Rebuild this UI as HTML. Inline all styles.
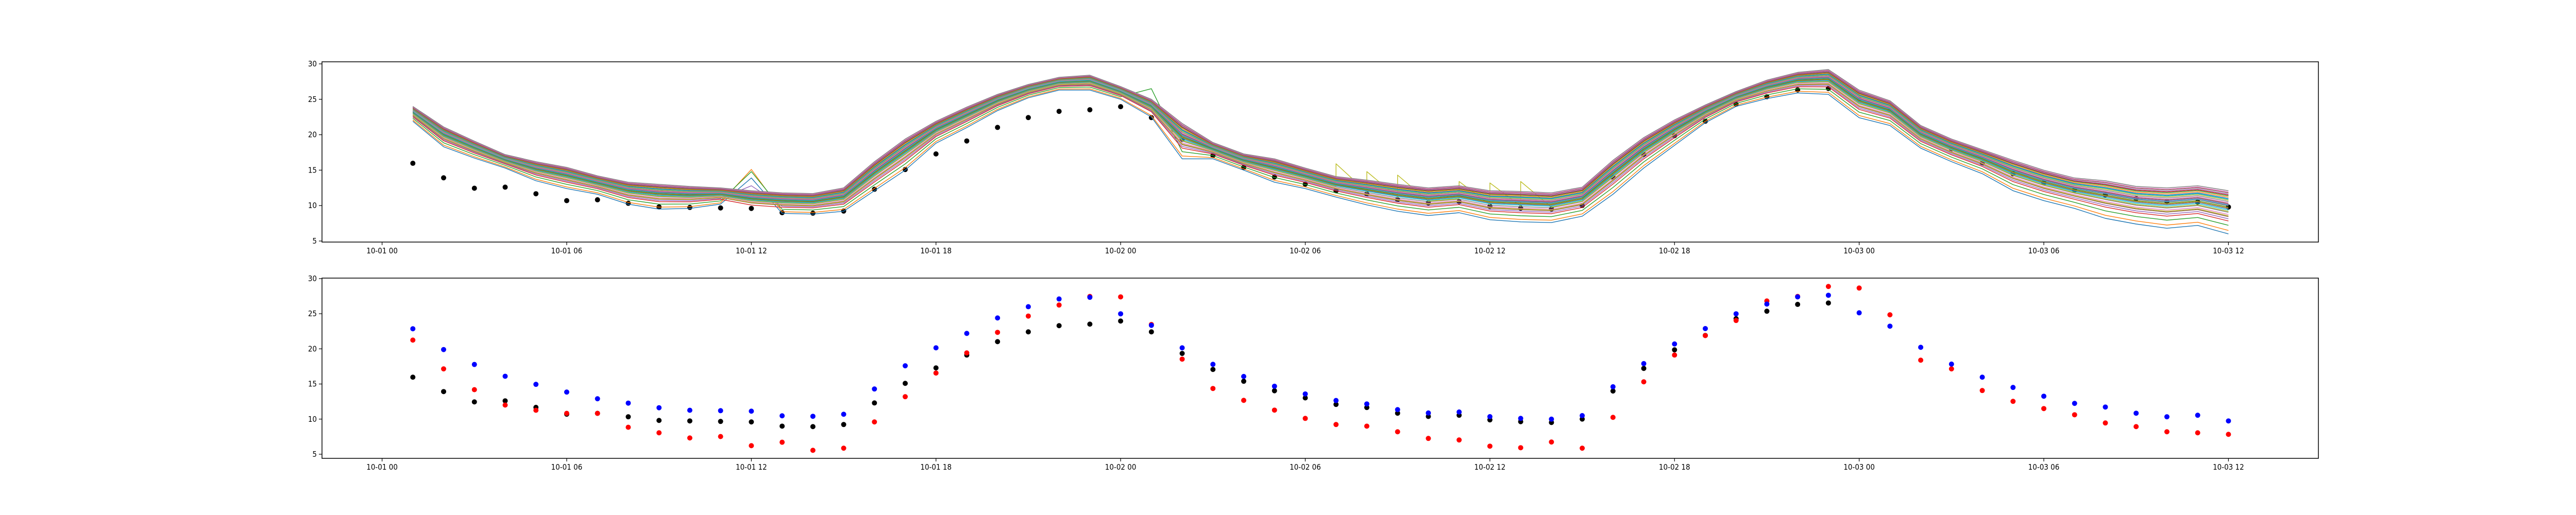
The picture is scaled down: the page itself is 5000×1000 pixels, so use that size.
<!DOCTYPE html>
<html><head><meta charset="utf-8">
<style>
html,body{margin:0;padding:0;background:#fff;}
svg{display:block;font-family:"DejaVu Sans Condensed","Liberation Sans Narrow","Liberation Sans",sans-serif;}
</style></head>
<body>
<svg id="fig" width="5000" height="1000" viewBox="0 0 5000 1000" xmlns="http://www.w3.org/2000/svg">
<rect x="0" y="0" width="5000" height="1000" fill="#fff"/>
<g id="ax1"></g>
<g id="ax2"></g>
</svg>
<script>
const obs = [15.97,13.92,12.45,12.6,11.67,10.7,10.82,10.33,9.81,9.74,9.67,9.6,9.0,8.93,
9.23,12.3,15.09,17.29,19.12,21.03,22.42,23.3,23.52,23.96,22.42,19.35,17.07,15.39,14.04,13.02,12.09,11.65,10.84,10.38,10.55,9.89,9.64,9.52,
10.01,14.0,17.22,19.86,21.91,24.3,25.36,26.33,26.53,25.0,23.5,20.5,18.0,16.0,14.5,13.2,12.2,11.5,11.0,10.6,10.5,9.8];
const obsShownBottom = 47;
const blueVals = [22.86,19.9,17.78,16.1,14.95,13.85,12.9,12.28,11.62,11.26,11.2,11.13,10.47,10.4,
10.69,14.29,17.59,20.15,22.2,24.4,26.0,27.1,27.34,24.99,23.35,20.15,17.8,16.07,14.68,13.58,12.65,12.16,11.35,10.87,11.01,10.35,10.1,9.99,
10.5,14.6,17.9,20.7,22.89,24.99,26.38,27.4,27.63,25.13,23.23,20.22,17.83,15.97,14.51,13.26,12.24,11.72,10.84,10.33,10.55,9.74];
const redVals = [21.25,17.15,14.19,12.0,11.26,10.82,10.82,8.84,8.05,7.32,7.52,6.22,6.71,5.56,
5.86,9.6,13.19,16.56,19.42,22.35,24.67,26.24,27.46,27.4,23.47,18.54,14.36,12.67,11.28,10.1,9.23,9.0,8.2,7.25,7.03,6.15,5.93,6.74,
5.86,10.25,15.31,19.12,21.89,24.04,26.82,27.46,28.88,28.66,24.85,18.39,17.15,14.07,12.53,11.5,10.62,9.45,8.93,8.2,8.05,7.83];
const ensHi = [24.0,21.1,19.1,17.2,16.2,15.4,14.2,13.3,13.0,12.7,12.5,12.1,11.8,11.7,
12.5,16.2,19.4,21.9,23.9,25.7,27.1,28.1,28.4,26.8,25.0,21.6,18.9,17.3,16.6,15.3,14.1,13.6,13.0,12.5,12.8,12.1,12.0,11.8,
12.6,16.4,19.6,22.1,24.2,26.1,27.7,28.8,29.2,26.3,24.8,21.3,19.4,17.9,16.4,15.0,13.9,13.5,12.7,12.5,12.8,12.1];
const ensLo = [21.9,18.3,16.7,15.3,13.5,12.4,11.6,10.2,9.5,9.6,10.2,9.2,8.9,8.8,
9.2,12.1,15.0,18.8,21.0,23.4,25.2,26.3,26.3,25.0,22.5,16.6,16.6,15.0,13.3,12.4,11.2,10.1,9.2,8.6,9.0,8.0,7.7,7.6,
8.5,11.6,15.3,18.5,21.7,24.0,25.1,25.9,25.7,22.4,21.3,18.1,16.2,14.5,12.1,10.7,9.6,8.2,7.4,6.8,7.2,6.0];
const memberWeights = [0,0.08,0.2,0.3,0.35,0.4,0.45,0.5,0.52,0.55,0.58,0.6,0.62,0.65,0.68,0.7,0.72,0.75,0.78,0.8,0.82,0.85,0.88,0.9,0.92,0.95,0.97,1.0,0.42,0.66];
const spikes = [[1,12,15.1],[2,12,14.8],[0,12,13.9],[4,12,12.8],[2,25,26.5]];
const sawMember = 8;
const sawHours = [31,32,33,35,36,37];
const sawValues = [15.9,14.8,14.3,13.4,13.2,13.4];
const tickHours = [0,6,12,18,24,30,36,42,48,54,60];
const tickLabels = ["10-01 00","10-01 06","10-01 12","10-01 18","10-02 00","10-02 06","10-02 12","10-02 18","10-03 00","10-03 06","10-03 12"];
const yTicks = [5,10,15,20,25,30];

const NS="http://www.w3.org/2000/svg";
const colors=["#1f77b4","#ff7f0e","#2ca02c","#d62728","#9467bd","#8c564b","#e377c2","#7f7f7f","#bcbd22","#17becf"];
const X0=625,X1=4500;
function xs(h){return 741.6+59.73*h;}
const panels=[{g:document.getElementById('ax1'),top:120,bot:470,y30:124,k:13.76},
              {g:document.getElementById('ax2'),top:540,bot:890,y30:541,k:13.64}];
function mk(tag,attrs,parent){const e=document.createElementNS(NS,tag);for(const a in attrs)e.setAttribute(a,attrs[a]);parent.appendChild(e);return e;}
function ysFn(p){return v=>p.y30+(30-v)*p.k;}

panels.forEach((p,pi)=>{
  const ys=ysFn(p);
  tickHours.forEach((h,i)=>{
    const x=xs(h);
    const t=mk('line',{x1:x,x2:x,y1:p.bot,y2:p.bot+6,stroke:'#000','stroke-width':1.2},p.g);
    
    
    const l=mk('text',{x:x,y:p.bot+22,'font-size':15,'text-anchor':'middle',fill:'#000'},p.g);
    l.textContent=tickLabels[i];
    
    
  });
  yTicks.forEach(v=>{
    const y=ys(v);
    const t=mk('line',{x1:X0-6,x2:X0,y1:y,y2:y,stroke:'#000','stroke-width':1.2},p.g);
    
    
    const l=mk('text',{x:X0-10,y:y+5,'font-size':15,'text-anchor':'end',fill:'#000'},p.g);
    l.textContent=String(v);
    
    
  });
});

// top panel: observations under ensemble members
(function(){
  const p=panels[0],ys=ysFn(p);
  obs.forEach((v,i)=>{
    const c=mk('circle',{cx:xs(i+1),cy:ys(v),r:5,fill:'#000'},p.g);
    
    
  });
  memberWeights.forEach((w,m)=>{
    const vals=ensLo.map((lo,i)=>lo+w*(ensHi[i]-lo));
    spikes.forEach(s=>{if(s[0]===m)vals[s[1]-1]=s[2];});
    const pts=[];
    vals.forEach((v,i)=>{
      const h=i+1;
      if(m===sawMember){const k=sawHours.indexOf(h);if(k>=0){pts.push([h,v]);pts.push([h,sawValues[k]]);return;}}
      pts.push([h,v]);
    });
    const d=pts.map((q,i)=>(i?'L':'M')+xs(q[0]).toFixed(1)+' '+ys(q[1]).toFixed(1)).join(' ');
    const path=mk('path',{d:d,fill:'none',stroke:colors[m%10],'stroke-width':1.4,'stroke-linejoin':'round'},p.g);
    
    
  });
})();

// bottom panel: observations, max (blue), min (red)
(function(){
  const p=panels[1],ys=ysFn(p);
  obs.slice(0,obsShownBottom).forEach((v,i)=>{
    const c=mk('circle',{cx:xs(i+1),cy:ys(v),r:5,fill:'#000'},p.g);
    
    
  });
  redVals.forEach((v,i)=>{
    const c=mk('circle',{cx:xs(i+1),cy:ys(v),r:5,fill:'#ff0000'},p.g);
    
    
  });
  blueVals.forEach((v,i)=>{
    const c=mk('circle',{cx:xs(i+1),cy:ys(v),r:5,fill:'#0000ff'},p.g);
    
    
  });
})();

panels.forEach(p=>{
  const frame=mk('rect',{x:X0,y:p.top,width:X1-X0,height:p.bot-p.top,fill:'none',stroke:'#000','stroke-width':1.5},p.g);
  
  
});
</script>
</body></html>
